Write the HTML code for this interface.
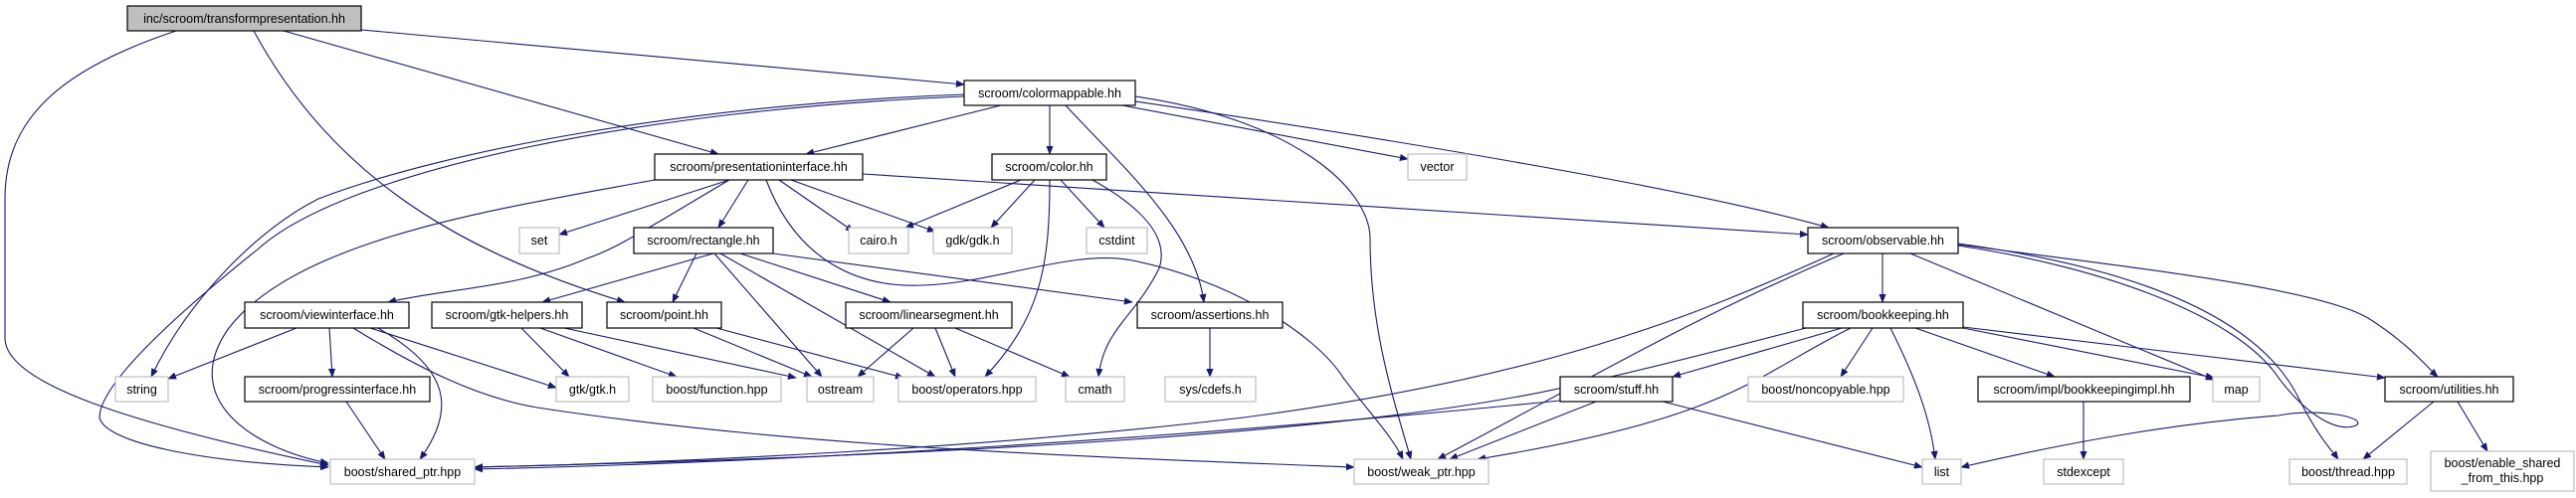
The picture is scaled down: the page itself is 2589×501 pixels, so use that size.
<!DOCTYPE html>
<html><head><meta charset="utf-8"><style>
html,body{margin:0;padding:0;background:#fff;}
svg{display:block;}
text{font-family:"Liberation Sans",sans-serif;font-size:12.5px;fill:#000;text-anchor:middle;}
.e{fill:none;stroke:#191970;stroke-width:1.1;}
.nb{fill:#fff;stroke:#000;stroke-width:1.2;}
.ng{fill:#fff;stroke:#bfbfbf;stroke-width:1.2;}
</style></head><body>
<svg width="2589" height="501" viewBox="0 0 2589 501" xmlns="http://www.w3.org/2000/svg">
<defs><marker id="a" viewBox="0 0 10 10" refX="9" refY="5" markerWidth="9" markerHeight="9" markerUnits="userSpaceOnUse" orient="auto"><path d="M0,1 L10,5 L0,9 z" fill="#191970"/></marker></defs>
<g marker-end="url(#a)">
<path class="e" d="M177,31 C60,70 5,120 5,200 L5,340 C5,380 100,420 330,468"/>
<path class="e" d="M255,31 C330,170 450,250 628,304"/>
<path class="e" d="M285,31 L722,155"/>
<path class="e" d="M363,30 L969,85"/>
<path class="e" d="M1006,106 L810,155"/>
<path class="e" d="M969,95 C700,105 450,150 320,200 C260,230 190,300 152,379"/>
<path class="e" d="M969,97 C650,110 350,170 260,250 C160,330 100,390 100,420 C105,445 200,465 330,470"/>
<path class="e" d="M1055,106 L1055,155"/>
<path class="e" d="M1071,106 C1130,170 1200,230 1210,304"/>
<path class="e" d="M1141,97 C1300,120 1377,190 1377,240 C1377,330 1400,400 1418,462"/>
<path class="e" d="M1128,106 L1415,160"/>
<path class="e" d="M1141,102 C1400,140 1700,190 1838,229"/>
<path class="e" d="M733,181 L562,236"/>
<path class="e" d="M752,181 L722,229"/>
<path class="e" d="M783,181 L858,233"/>
<path class="e" d="M795,181 L940,233"/>
<path class="e" d="M867,175 L1817,236"/>
<path class="e" d="M733,181 C650,230 620,250 590,260 C520,290 450,290 390,304"/>
<path class="e" d="M658,181 C500,210 300,240 230,330 C180,400 250,450 330,466"/>
<path class="e" d="M770,181 C800,260 860,290 927,287 C1000,285 1080,250 1138,262 C1230,280 1320,333 1350,380 C1380,420 1400,440 1410,462"/>
<path class="e" d="M717,255 L545,304"/>
<path class="e" d="M700,255 L676,304"/>
<path class="e" d="M718,255 L826,379"/>
<path class="e" d="M724,255 L940,379"/>
<path class="e" d="M744,255 L895,304"/>
<path class="e" d="M777,255 L1138,304"/>
<path class="e" d="M1026,181 L910,229"/>
<path class="e" d="M1040,181 L996,229"/>
<path class="e" d="M1066,181 L1110,229"/>
<path class="e" d="M1055,181 C1055,270 1045,320 990,379"/>
<path class="e" d="M1098,181 C1150,210 1175,240 1165,270 C1140,320 1110,330 1104,379"/>
<path class="e" d="M298,330 L169,381"/>
<path class="e" d="M331,330 L334,379"/>
<path class="e" d="M372,330 L559,390"/>
<path class="e" d="M380,330 C450,370 460,410 422,462"/>
<path class="e" d="M355,330 C420,370 480,400 540,410 C800,450 1100,460 1361,470"/>
<path class="e" d="M524,330 L572,379"/>
<path class="e" d="M543,330 L680,379"/>
<path class="e" d="M567,330 L800,380"/>
<path class="e" d="M697,330 L816,379"/>
<path class="e" d="M720,330 L908,380"/>
<path class="e" d="M918,330 L862,379"/>
<path class="e" d="M940,330 L960,379"/>
<path class="e" d="M960,330 L1075,379"/>
<path class="e" d="M1216,330 L1216,379"/>
<path class="e" d="M348,404 L387,462"/>
<path class="e" d="M1892,255 L1892,304"/>
<path class="e" d="M1920,255 L2225,382"/>
<path class="e" d="M1968,246 C2150,270 2330,290 2380,320 C2420,345 2440,370 2450,379"/>
<path class="e" d="M1968,245 C2150,270 2270,320 2310,400 C2330,440 2345,455 2350,462"/>
<path class="e" d="M1968,247 C2120,270 2250,320 2290,380 C2320,420 2350,435 2368,428 C2380,420 2330,410 2290,418 C2200,425 2100,440 1971,470"/>
<path class="e" d="M1843,255 C1700,320 1550,380 1250,420 C1000,450 700,465 477,470"/>
<path class="e" d="M1853,255 C1700,320 1600,380 1445,462"/>
<path class="e" d="M1882,330 L1850,379"/>
<path class="e" d="M1900,330 C1925,380 1940,420 1945,462"/>
<path class="e" d="M1925,330 L2065,379"/>
<path class="e" d="M1973,330 L2225,380"/>
<path class="e" d="M1973,329 L2397,380"/>
<path class="e" d="M1851,330 L1681,379"/>
<path class="e" d="M1860,330 C1760,380 1740,420 1485,462"/>
<path class="e" d="M1815,330 C1700,360 1580,390 1520,400 C1300,440 900,460 477,470"/>
<path class="e" d="M1568,403 C1200,440 800,465 477,472"/>
<path class="e" d="M1604,404 L1457,462"/>
<path class="e" d="M1671,404 L1932,470"/>
<path class="e" d="M2094,404 L2094,462"/>
<path class="e" d="M2446,404 L2375,462"/>
<path class="e" d="M2470,404 L2500,454"/>
</g>
<g>
<rect x="128" y="6" width="235" height="25" fill="#bfbfbf" stroke="#000" stroke-width="1.2"/><text x="245.5" y="23">inc/scroom/transformpresentation.hh</text>
<rect class="nb" x="969" y="81" width="172" height="25"/><text x="1055" y="98">scroom/colormappable.hh</text>
<rect class="nb" x="658" y="155" width="209" height="26"/><text x="762.5" y="172">scroom/presentationinterface.hh</text>
<rect class="nb" x="997" y="155" width="115" height="26"/><text x="1054.5" y="172">scroom/color.hh</text>
<rect class="ng" x="1415" y="155" width="59" height="26"/><text x="1444.5" y="172">vector</text>
<rect class="nb" x="1817" y="229" width="151" height="26"/><text x="1892.5" y="246">scroom/observable.hh</text>
<rect class="ng" x="522" y="229" width="40" height="26"/><text x="542" y="246">set</text>
<rect class="nb" x="637" y="229" width="140" height="26"/><text x="707" y="246">scroom/rectangle.hh</text>
<rect class="ng" x="853" y="229" width="60" height="26"/><text x="883" y="246">cairo.h</text>
<rect class="ng" x="938" y="229" width="79" height="26"/><text x="977.5" y="246">gdk/gdk.h</text>
<rect class="ng" x="1092" y="229" width="61" height="26"/><text x="1122.5" y="246">cstdint</text>
<rect class="nb" x="246" y="304" width="165" height="26"/><text x="328.5" y="321">scroom/viewinterface.hh</text>
<rect class="nb" x="434" y="304" width="151" height="26"/><text x="509.5" y="321">scroom/gtk-helpers.hh</text>
<rect class="nb" x="610" y="304" width="115" height="26"/><text x="667.5" y="321">scroom/point.hh</text>
<rect class="nb" x="850" y="304" width="167" height="26"/><text x="933.5" y="321">scroom/linearsegment.hh</text>
<rect class="nb" x="1143" y="304" width="146" height="26"/><text x="1216" y="321">scroom/assertions.hh</text>
<rect class="nb" x="1812" y="304" width="161" height="26"/><text x="1892.5" y="321">scroom/bookkeeping.hh</text>
<rect class="ng" x="116" y="379" width="53" height="25"/><text x="142.5" y="396">string</text>
<rect class="nb" x="246" y="379" width="186" height="25"/><text x="339" y="396">scroom/progressinterface.hh</text>
<rect class="ng" x="559" y="379" width="73" height="25"/><text x="595.5" y="396">gtk/gtk.h</text>
<rect class="ng" x="656" y="379" width="129" height="25"/><text x="720.5" y="396">boost/function.hpp</text>
<rect class="ng" x="811" y="379" width="67" height="25"/><text x="844.5" y="396">ostream</text>
<rect class="ng" x="903" y="379" width="138" height="25"/><text x="972" y="396">boost/operators.hpp</text>
<rect class="ng" x="1071" y="379" width="59" height="25"/><text x="1100.5" y="396">cmath</text>
<rect class="ng" x="1171" y="379" width="91" height="25"/><text x="1216.5" y="396">sys/cdefs.h</text>
<rect class="nb" x="1568" y="379" width="113" height="25"/><text x="1624.5" y="396">scroom/stuff.hh</text>
<rect class="ng" x="1757" y="379" width="156" height="25"/><text x="1835" y="396">boost/noncopyable.hpp</text>
<rect class="nb" x="1988" y="379" width="213" height="25"/><text x="2094.5" y="396">scroom/impl/bookkeepingimpl.hh</text>
<rect class="ng" x="2224" y="379" width="47" height="25"/><text x="2247.5" y="396">map</text>
<rect class="nb" x="2397" y="379" width="129" height="25"/><text x="2461.5" y="396">scroom/utilities.hh</text>
<rect class="ng" x="332" y="462" width="145" height="25"/><text x="404.5" y="479">boost/shared_ptr.hpp</text>
<rect class="ng" x="1361" y="462" width="135" height="25"/><text x="1428.5" y="479">boost/weak_ptr.hpp</text>
<rect class="ng" x="1932" y="462" width="39" height="25"/><text x="1951.5" y="479">list</text>
<rect class="ng" x="2054" y="462" width="80" height="25"/><text x="2094" y="479">stdexcept</text>
<rect class="ng" x="2301" y="462" width="118" height="25"/><text x="2360" y="479">boost/thread.hpp</text>
<rect class="ng" x="2443" y="454" width="144" height="40"/><text x="2515" y="470">boost/enable_shared</text><text x="2515" y="485">_from_this.hpp</text>
</g>
</svg>
</body></html>
